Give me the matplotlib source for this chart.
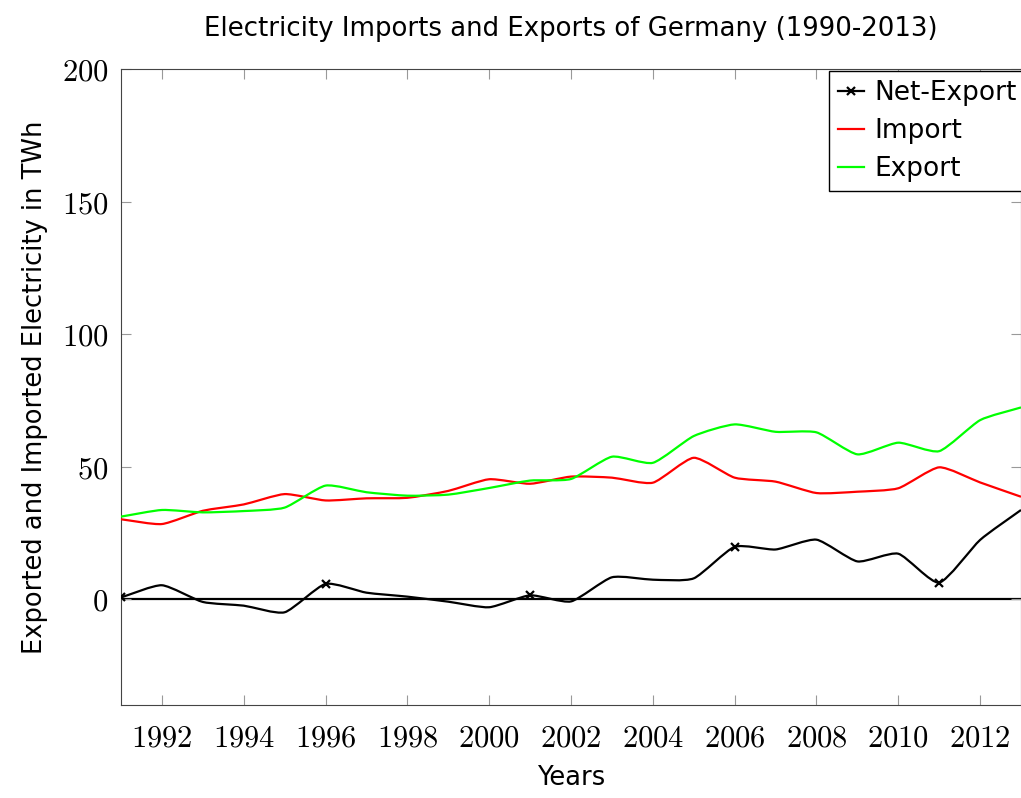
import numpy as np
import matplotlib
matplotlib.use('Agg')
import matplotlib.pyplot as plt
from matplotlib.path import Path
from matplotlib.patches import PathPatch
from matplotlib.lines import Line2D

plt.rcParams['mathtext.fontset'] = 'cm'
plt.rcParams['font.family'] = 'DejaVu Sans'

years = list(range(1991, 2014))
net_export = [0.6, 5.2, -1.1, -2.5, -5.0, 5.7, 2.4, 0.9, -1.0, -3.1, 1.4, -0.9,
              8.2, 7.3, 7.8, 19.7, 18.7, 22.4, 14.2, 17.1, 6.2, 22.3, 33.6]
imports = [30.1, 28.3, 33.3, 35.7, 39.6, 37.2, 38.0, 38.2, 40.8, 45.2, 43.5, 46.2,
           45.8, 43.9, 53.3, 45.8, 44.3, 40.0, 40.5, 41.8, 49.7, 44.0, 38.6]
exports = [31.1, 33.6, 32.7, 33.2, 34.5, 42.8, 40.3, 39.0, 39.4, 41.9, 44.7, 45.3,
           53.7, 51.4, 61.5, 65.9, 63.1, 62.9, 54.6, 59.0, 55.8, 67.5, 72.3]
xticks = list(range(1992, 2013, 2))
yticks = [0, 50, 100, 150, 200]


def smooth_path(x, y, tension=0.55):
    # cubic bezier through the points, like pgfplots "smooth"
    p = np.column_stack([x, y]).astype(float)
    n = len(p)
    tang = np.zeros_like(p)
    tang[1:-1] = (p[2:] - p[:-2]) / 2
    tang[0] = p[1] - p[0]
    tang[-1] = p[-1] - p[-2]
    verts = [p[0]]
    codes = [Path.MOVETO]
    k = tension / 3 * 1.1
    for i in range(n - 1):
        verts += [p[i] + k * tang[i], p[i + 1] - k * tang[i + 1], p[i + 1]]
        codes += [Path.CURVE4] * 3
    return Path(verts, codes)


fig = plt.figure(figsize=(10.21, 7.98), dpi=100)
ax = fig.add_axes([0.1185, 0.1165, 0.8815, 0.797])

ax.axhline(0, color='black', lw=1.6, zorder=1)
for vals, col in [(net_export, 'black'), (imports, 'red'), (exports, '#00ff00')]:
    ax.add_patch(PathPatch(smooth_path(years, vals), fill=False, edgecolor=col, lw=1.6, zorder=3))
ax.plot(years[::5], net_export[::5], ls='none', marker='x', color='black', ms=6, mew=1.6, zorder=4)

ax.set_xlim(1991, 2013)
ax.set_ylim(-40, 200)
ax.set_xticks(xticks)
ax.set_xticklabels(['$%d$' % v for v in xticks])
ax.set_yticks(yticks)
ax.set_yticklabels(['$%d$' % v for v in yticks])
ax.tick_params(direction='in', length=7, color='#999999', labelsize=22,
               top=True, right=True)
ax.tick_params(axis='x', pad=13)
ax.tick_params(axis='y', pad=9)
for s in ax.spines.values():
    s.set_color('#444444')

ax.set_xlabel('Years', fontsize=18.5, labelpad=9)
ax.set_ylabel('Exported and Imported Electricity in TWh', fontsize=18.5, labelpad=10)
ax.set_title('Electricity Imports and Exports of Germany (1990-2013)', fontsize=18.7, pad=24)

handles = [Line2D([0], [0], color='black', marker='x', markevery=[0], lw=1.6, mew=1.6),
           Line2D([0], [0], color='red', lw=1.6),
           Line2D([0], [0], color='#00ff00', lw=1.6)]
leg = ax.legend(handles, ['Net-Export', 'Import', 'Export'], loc='upper right',
                bbox_to_anchor=(1.006, 0.997), fontsize=19, frameon=True, fancybox=False,
                edgecolor='black', handlelength=1.0, handletextpad=0.4, borderaxespad=0.0,
                labelspacing=0.45, borderpad=0.35)
leg.get_frame().set_linewidth(1.0)
leg.get_frame().set_alpha(1)

fig.savefig('out.png', dpi=100)
